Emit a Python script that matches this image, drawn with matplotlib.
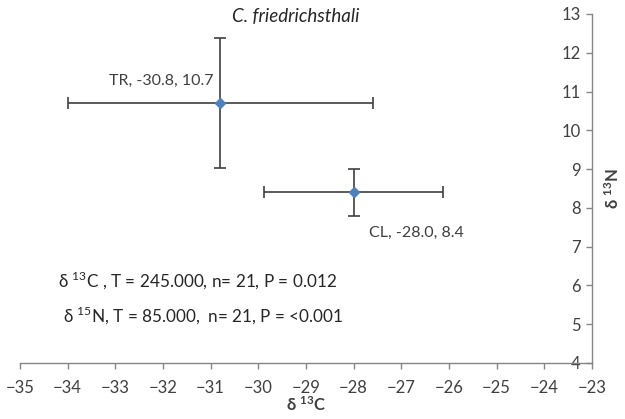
import matplotlib
matplotlib.use('Agg')
import matplotlib.pyplot as plt

plt.rcParams['font.family'] = ['Lato', 'DejaVu Sans']
plt.rcParams['mathtext.fontset'] = 'custom'
plt.rcParams['mathtext.rm'] = 'Lato'
plt.rcParams['mathtext.bf'] = 'Lato:bold'

# site means of d13C / d15N with error bars
sites = ['TR', 'CL']
c13 = [-30.8, -28.0]
n15 = [10.7, 8.4]
c13_err = [3.2, 1.88]
n15_err = [1.67, 0.61]

xticks = list(range(-35, -22))
yticks = list(range(4, 14))

grey = '#868686'
dark = '#404040'

fig = plt.figure(figsize=(6.25, 4.19), dpi=100)
ax = fig.add_axes([0.032, 0.1337, 0.915, 0.833])

ax.errorbar(c13, n15, xerr=c13_err, yerr=n15_err, fmt='D', color='#4F81BD',
            markersize=5, ecolor=dark, elinewidth=1.2, capsize=4, capthick=1.2)

# point labels
ax.annotate('%s, %.1f, %.1f' % (sites[0], c13[0], n15[0]), (c13[0], n15[0]),
            xytext=(-5, 16), textcoords='offset points', ha='right', va='center',
            fontsize=11.5, color=dark)
ax.annotate('%s, %.1f, %.1f' % (sites[1], c13[1], n15[1]), (c13[1], n15[1]),
            xytext=(11, -29), textcoords='offset points', ha='left', va='center',
            fontsize=11.5, color=dark)

ax.text(-34.2, 6.14, 'δ $^{13}$C , T = 245.000, n= 21, P = 0.012',
        fontsize=12.3, color='#262626', va='center')
ax.text(-34.1, 5.23, 'δ $^{15}$N, T = 85.000,  n= 21, P = <0.001',
        fontsize=12.3, color='#262626', va='center')

fig.text(296 / 625, 1 - 17 / 419, 'C. friedrichsthali', fontstyle='italic',
         fontsize=13.5, color='#262626', ha='center', va='center')

ax.set_xlim(-35, -23)
ax.set_ylim(4, 13)
ax.set_xticks(xticks)
ax.set_yticks(yticks)

for s in ['top', 'right']:
    ax.spines[s].set_visible(False)
ax.spines['left'].set_position(('data', -23))
for s in ['left', 'bottom']:
    ax.spines[s].set_color(grey)
    ax.spines[s].set_linewidth(1)

ax.tick_params(axis='both', colors=grey, labelcolor=dark, labelsize=12,
               length=4, width=1)
ax.tick_params(axis='x', pad=8)
ax.tick_params(axis='y', pad=4)

ax.set_xlabel(r'δ $\mathbf{^{13}C}$', fontweight='bold', fontsize=12,
              color=dark, labelpad=0)
ax.yaxis.set_label_position('right')
ax.set_ylabel(r'δ $\mathbf{^{13}N}$', fontweight='bold', fontsize=12,
              color=dark, rotation=90, labelpad=8)

fig.savefig('out.png', dpi=100)
